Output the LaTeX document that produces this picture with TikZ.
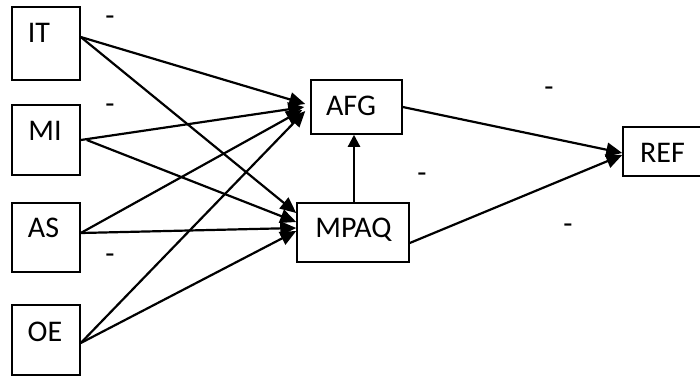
\documentclass[tikz,border=0pt]{standalone}
\usepackage{fontspec}
\setmainfont{Carlito}
\usetikzlibrary{arrows.meta}
\begin{document}
\begin{tikzpicture}[x=1pt,y=-1pt,
  box/.style={draw, line width=1.5pt, inner sep=0pt, rectangle},
  lbl/.style={inner sep=0pt, font=\fontsize{30}{34}\selectfont, text height=0.63em, text depth=0pt, yshift=-5pt},
  sgn/.style={inner sep=0pt, font=\fontsize{30}{34}\selectfont},
  link/.style={line width=2.2pt, -{Triangle[length=16pt,width=14pt]}}]
\useasboundingbox (0,0) rectangle (700,376);
\fill[white] (0,0) rectangle (700,376);

% construct boxes
\node[box, minimum width=68, minimum height=73] (IT)   at (46,43.5)  {};
\node[box, minimum width=68, minimum height=70] (MI)   at (46,140)   {};
\node[box, minimum width=68, minimum height=69] (AS)   at (46,237.5) {};
\node[box, minimum width=68, minimum height=70] (OE)   at (46,340)   {};
\node[box, minimum width=91, minimum height=54] (AFG)  at (356.5,107) {};
\node[box, minimum width=112, minimum height=59] (MPAQ) at (353,232.5) {};
\node[box, minimum width=82, minimum height=49] (REF)  at (664,151.5) {};

% box captions
\node[lbl] (tIT)   at (39,34)     {IT};
\node[lbl] (tMI)   at (45,132)    {MI};
\node[lbl] (tAS)   at (43.5,229.5){AS};
\node[lbl] (tOE)   at (45,333)    {OE};
\node[lbl] (tAFG)  at (351,107)   {AFG};
\node[lbl] (tMPAQ) at (353.5,229.5){MPAQ};
\node[lbl] (tREF)  at (662.5,154) {REF};

% paths into AFG
\draw[link] ([yshift=6.5pt]IT.east) -- ([xshift=-5pt,yshift=3pt]AFG.west);
\draw[link] (MI.east) -- ([xshift=-6pt]AFG.west);
\draw[link] ([yshift=4.5pt]AS.east) -- ([xshift=-8pt,yshift=-3pt]AFG.west);
\draw[link] ([yshift=-3pt]OE.east) -- ([xshift=-5pt,yshift=-4pt]AFG.west);

% paths into MPAQ
\draw[link] ([yshift=6.5pt]IT.east) -- ([yshift=19.5pt]MPAQ.west);
\draw[link] ([xshift=6pt]MI.east) -- ([yshift=10.5pt]MPAQ.west);
\draw[link] ([yshift=4.5pt]AS.east) -- ([yshift=4.5pt]MPAQ.west);
\draw[link] ([yshift=-3pt]OE.east) -- ([yshift=1.5pt]MPAQ.west);

% mediator and outcome paths
\draw[link, -{Triangle[length=12pt,width=12pt]}] ([xshift=1pt]MPAQ.north) -- ([xshift=-2.5pt]AFG.south);
\draw[link] (AFG.east) -- ([yshift=-1.5pt]REF.west);
\draw[link] ([yshift=-10.5pt]MPAQ.east) -- ([yshift=-3.5pt]REF.west);

% coefficient placeholders
\node[sgn] (s1) at (110,21)  {-};
\node[sgn] (s2) at (110,109) {-};
\node[sgn] (s3) at (110,259) {-};
\node[sgn] (s4) at (549,92)  {-};
\node[sgn] (s5) at (422,178) {-};
\node[sgn] (s6) at (568,229) {-};
\end{tikzpicture}
\end{document}
